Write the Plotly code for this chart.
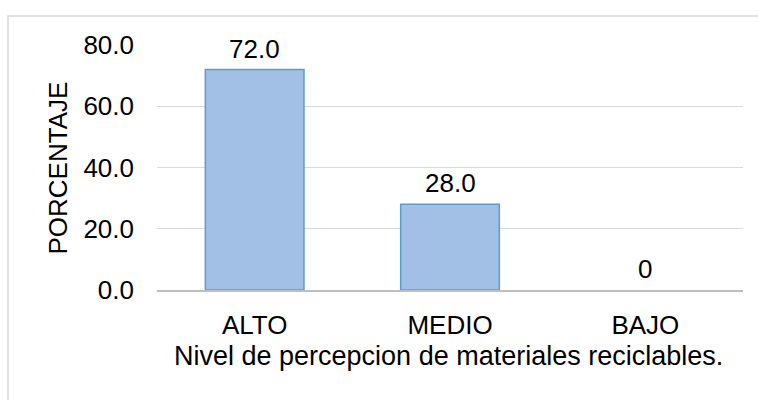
import plotly.graph_objects as go

categories = ["ALTO", "MEDIO", "BAJO"]
values = [72.0, 28.0, 0]
labels = ["72.0", "28.0", "0"]
y_ticks = [0, 20, 40, 60, 80]
y_title = "PORCENTAJE"
x_title = "Nivel de percepcion de materiales reciclables."

W, H = 758, 400
L, R, T, B = 157, 15, 45, 110
pw, ph = W - L - R, H - T - B

def px(xp):
    return (xp - L) / pw

def py(yp):
    return (H - B - yp) / ph

fam = "Liberation Sans, Arial, sans-serif"
font = dict(family=fam, size=26, color="#000000")

fig = go.Figure()
fig.add_trace(go.Bar(
    x=categories, y=values, width=0.505,
    marker=dict(color="#a2bfe6",
                line=dict(color="#5b9bd5", width=[1.5 if v else 0 for v in values])),
    hoverinfo="skip",
))

for c, v, t in zip(categories, values, labels):
    fig.add_annotation(x=c, y=v, text=t, showarrow=False, yshift=21,
                       font=font, xanchor="center", yanchor="middle")

fig.add_annotation(xref="paper", yref="paper", x=px(57), y=0.5, text=y_title,
                   textangle=-90, showarrow=False,
                   font=dict(family=fam, size=26, color="#000000"),
                   xanchor="center", yanchor="middle")
fig.add_annotation(xref="paper", yref="paper", x=px(448), y=py(356), text=x_title,
                   showarrow=False, font=dict(family=fam, size=27, color="#000000"),
                   xanchor="center", yanchor="middle")

fig.add_shape(type="rect", xref="paper", yref="paper",
              x0=px(8), x1=px(790), y0=py(16), y1=py(430),
              line=dict(color="#d9d9d9", width=1.5), fillcolor="rgba(0,0,0,0)",
              layer="below")

fig.update_layout(
    width=W, height=H,
    margin=dict(l=L, r=R, t=T, b=B, pad=0),
    paper_bgcolor="white", plot_bgcolor="white",
    font=font, showlegend=False,
    bargap=0.5,
)
fig.update_xaxes(showline=True, linecolor="#bfbfbf", linewidth=1.5,
                 ticks="", showgrid=False, tickfont=font, ticklabelstandoff=11)
fig.update_yaxes(range=[0, 80], tickvals=y_ticks, tickformat=".1f",
                 showgrid=True, gridcolor="#d9d9d9", gridwidth=1,
                 zeroline=False, ticks="", tickfont=font, ticklabelstandoff=22)

fig.write_html("out.html")
